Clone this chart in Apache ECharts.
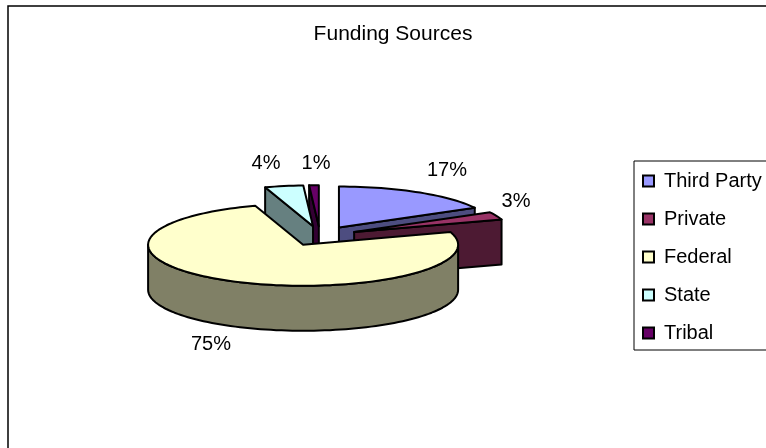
<!DOCTYPE html>
<html><head><meta charset="utf-8">
<style>html,body{margin:0;padding:0;background:#fff}#c{width:766px;height:448px}</style>
<script src="https://cdn.jsdelivr.net/npm/echarts@6/dist/echarts.min.js"></script>
</head><body><div id="c"></div>
<script>
const categories = ['Third Party','Private','Federal','State','Tribal'];
const values = [17,3,75,4,1];
const topColors = ['#9999FF','#993366','#FFFFCC','#CCFFFF','#660066'];
const sideColors = ['#4D4D80','#4D1A33','#808066','#668080','#330033'];
const paintOrder = [0,4,3,1,2];

const FONT = '20px "Liberation Sans", Arial, sans-serif';
const pie = {cx:320, cy:236, rx:155, ry:41, depth:45, explode:0.24};
const labelAt = [[447,170],[516,201],[211,344],[266,163],[316,163]];

const total = values.reduce((a,b)=>a+b,0);
const spans = [];
values.reduce((acc,v)=>{const s=acc, e=acc+v/total*360; spans.push([s,e]); return e;},0);
const rad = d => d*Math.PI/180;

function sliceShapes(i){
  const [s,e] = spans[i];
  const mid = rad((s+e)/2);
  const ax = pie.cx + pie.explode*pie.rx*Math.sin(mid);
  const ay = pie.cy - pie.explode*pie.ry*Math.cos(mid);
  const rim = d => [ax+pie.rx*Math.sin(rad(d)), ay-pie.ry*Math.cos(rad(d))];
  const down = p => [p[0], p[1]+pie.depth];
  const line = {stroke:'#000', lineWidth:2, lineJoin:'round'};
  const kids = [];
  // cut walls facing the viewer
  const wall = (deg, inner) => {
    const p = rim(deg), q = rim(inner);
    const ex = p[0]-ax, ey = p[1]-ay;
    const c1 = ex*(q[1]-ay) - ey*(q[0]-ax);
    const c2 = ex*1;
    if (c1*c2 < -1e-6) {
      kids.push({type:'polygon', shape:{points:[[ax,ay],p,down(p),[ax,ay+pie.depth]]},
        style:Object.assign({fill:sideColors[i]},line)});
    }
  };
  wall(s, s+0.5); wall(e, e-0.5);
  // outer rim wall, only where the rim faces the viewer
  const a0 = Math.max(s,90), a1 = Math.min(e,270);
  if (a1 > a0) {
    const up = [], low = [];
    for (let d=a0; d<=a1+1e-6; d+=2){ const p=rim(Math.min(d,a1)); up.push(p); low.unshift(down(p)); }
    kids.push({type:'polygon', shape:{points:up.concat(low)}, style:Object.assign({fill:sideColors[i]},line)});
  }
  // top face
  const pts = [[ax,ay]];
  const n = Math.max(2, Math.ceil((e-s)/2));
  for (let k=0;k<=n;k++) pts.push(rim(s+(e-s)*k/n));
  kids.push({type:'polygon', shape:{points:pts}, style:Object.assign({fill:topColors[i]},line)});
  return kids;
}

const series = paintOrder.map(i => ({
  type:'custom', name:categories[i], coordinateSystem:'none', silent:true,
  itemStyle:{color:topColors[i]},
  data:[values[i]],
  renderItem:(params, api) => {
    const kids = sliceShapes(i);
    kids.push({type:'text', z2:50, style:{
      text:Math.round(api.value(0)/total*100)+'%',
      x:labelAt[i][0], y:labelAt[i][1], font:FONT, fill:'#000', align:'center', verticalAlign:'middle'}});
    return {type:'group', children:kids};
  }
}));

const chart = echarts.init(document.getElementById('c'), null, {renderer:'canvas'});
chart.setOption({
  animation:false,
  backgroundColor:'#fff',
  graphic:[{type:'rect', silent:true, z:-1, shape:{x:8,y:6,width:800,height:500},
    style:{fill:'#fff', stroke:'#000', lineWidth:1.5}}],
  title:{text:'Funding Sources', left:393, top:34, textAlign:'center', textVerticalAlign:'middle',
    textStyle:{fontFamily:'"Liberation Sans"', fontSize:21, fontWeight:'normal', color:'#000'}, padding:0},
  legend:{
    orient:'vertical', left:634, top:161, data:categories, selectedMode:false,
    icon:'rect', itemWidth:11, itemHeight:11, itemGap:18, align:'left',
    padding:[10,40,7,8], backgroundColor:'#fff', borderColor:'#000', borderWidth:1,
    inactiveColor:'#000',
    itemStyle:{borderColor:'#000', borderWidth:2},
    textStyle:{fontFamily:'"Liberation Sans"', fontSize:20, color:'#000', padding:[0,0,0,5]}
  },
  series
});
</script></body></html>
